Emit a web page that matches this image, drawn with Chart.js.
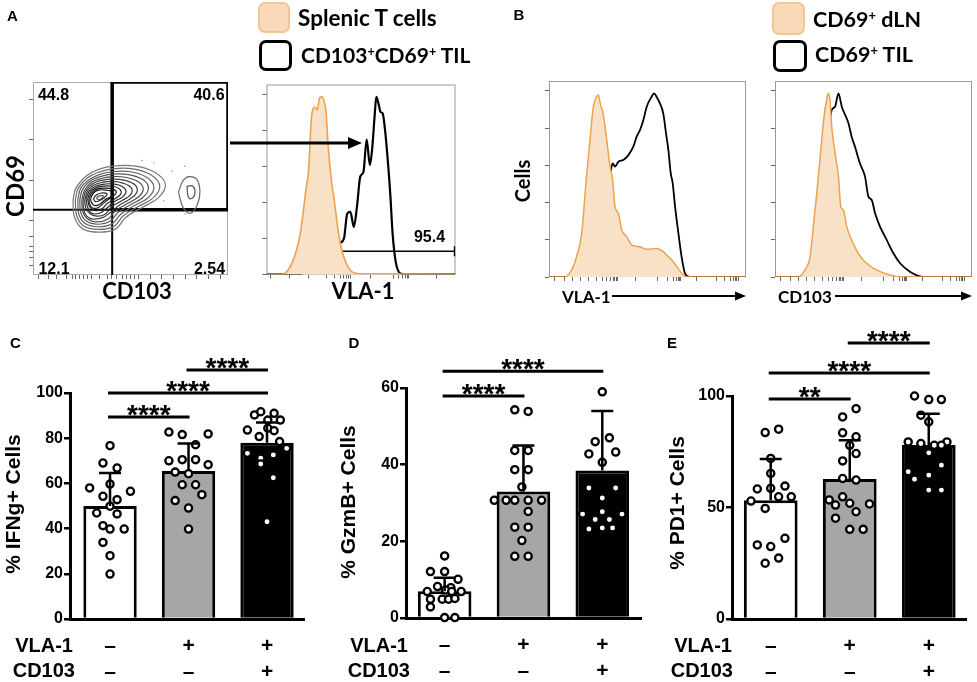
<!DOCTYPE html>
<html><head><meta charset="utf-8">
<script src="https://cdn.jsdelivr.net/npm/chart.js@4.4.1/dist/chart.umd.min.js"></script>
<style>
html,body{margin:0;padding:0;background:#fff;}
#fig{position:relative;width:977px;height:682px;overflow:hidden;font-family:'Liberation Sans',Arial,sans-serif;}
canvas{position:absolute;}
.t,.l,.r{position:absolute;white-space:nowrap;line-height:1;font-weight:bold;color:#000;}
.t{transform:translate(-50%,-50%);}
.l{transform:translate(0,-50%);}
.r{transform:translate(-100%,-50%);}
.t.rot{transform:translate(-50%,-50%) rotate(-90deg);}
.cal{font-family:Lato,'Open Sans',sans-serif;}
.box{position:absolute;box-sizing:border-box;border-radius:7px;}
.sp{font-size:0.6em;position:relative;top:-0.55em;}
</style></head>
<body><div id="fig">
<canvas id="cont" width="204" height="202" style="left:28px;top:78px"></canvas>
<canvas id="histA" width="202" height="203" style="left:260px;top:78px"></canvas>
<canvas id="histB1" width="204" height="203" style="left:544px;top:79px"></canvas>
<canvas id="histB2" width="204" height="203" style="left:770px;top:79px"></canvas>
<canvas id="barC" width="311" height="349" style="left:0px;top:330px"></canvas>
<canvas id="barD" width="312" height="348" style="left:336px;top:330px"></canvas>
<canvas id="barE" width="311" height="349" style="left:662px;top:330px"></canvas>

<svg style="position:absolute;left:0;top:0" width="977" height="682">
  <line x1="230" y1="143" x2="350" y2="143" stroke="#000" stroke-width="3"/>
  <polygon points="362,143 348,137 348,149" fill="#000"/>
  <line x1="612" y1="296" x2="736" y2="296" stroke="#000" stroke-width="2"/>
  <polygon points="746,296 735,291.5 735,300.5" fill="#000"/>
  <line x1="835" y1="296" x2="962" y2="296" stroke="#000" stroke-width="2"/>
  <polygon points="972,296 961,291.5 961,300.5" fill="#000"/>
</svg>

<div class="t" style="left:12.5px;top:15px;font-size:15px">A</div>
<div class="t" style="left:519px;top:14px;font-size:15px">B</div>
<div class="t" style="left:15.5px;top:342px;font-size:15px">C</div>
<div class="t" style="left:354px;top:342px;font-size:15px">D</div>
<div class="t" style="left:672px;top:342px;font-size:15px">E</div>

<div class="t" style="left:53.5px;top:95px;font-size:16px">44.8</div>
<div class="t" style="left:209px;top:95px;font-size:16px">40.6</div>
<div class="t" style="left:54px;top:269px;font-size:16px">12.1</div>
<div class="t" style="left:209.5px;top:269px;font-size:16px">2.54</div>
<div class="t" style="left:429.5px;top:237px;font-size:16px">95.4</div>

<div class="t cal rot" style="left:15px;top:186px;font-size:24px">CD69</div>
<div class="t cal" style="left:137px;top:291px;font-size:22px">CD103</div>
<div class="t cal" style="left:363px;top:291px;font-size:22px">VLA-1</div>
<div class="t cal rot" style="left:522px;top:181px;font-size:20px">Cells</div>
<div class="l cal" style="left:562px;top:296px;font-size:17px">VLA-1</div>
<div class="l cal" style="left:778px;top:296px;font-size:17px">CD103</div>

<div class="box" style="left:258px;top:2px;width:32px;height:31px;background:#f8d9b8;border:2px solid #f2c594"></div>
<div class="box" style="left:259px;top:40px;width:33px;height:31px;border:3px solid #000"></div>
<div class="l cal" style="left:298px;top:17.5px;font-size:22.5px">Splenic T cells</div>
<div class="l cal" style="left:301px;top:55px;font-size:21px">CD103<span class="sp">+</span>CD69<span class="sp">+</span> TIL</div>
<div class="box" style="left:772px;top:2px;width:33px;height:33px;background:#f8d9b8;border:2px solid #f2c594"></div>
<div class="box" style="left:773px;top:40px;width:34px;height:32px;border:3px solid #000"></div>
<div class="l cal" style="left:813px;top:20px;font-size:21.5px">CD69<span class="sp">+</span> dLN</div>
<div class="l cal" style="left:815px;top:55px;font-size:21.5px">CD69<span class="sp">+</span> TIL</div>

<div class="t rot" style="left:12px;top:504px;font-size:21px">% IFNg+ Cells</div>
<div class="t rot" style="left:347px;top:502px;font-size:21px">% GzmB+ Cells</div>
<div class="t rot" style="left:676px;top:503px;font-size:21px">% PD1+ Cells</div>

<div class="r" style="left:73px;top:645px;font-size:20px">VLA-1</div>
<div class="r" style="left:75px;top:670px;font-size:20px">CD103</div>
<div class="r" style="left:408px;top:645px;font-size:20px">VLA-1</div>
<div class="r" style="left:410px;top:670px;font-size:20px">CD103</div>
<div class="r" style="left:732px;top:645px;font-size:20px">VLA-1</div>
<div class="r" style="left:733px;top:670px;font-size:20px">CD103</div>
</div>

<script>
// ---------------- DATA ----------------
// Panel A contour (CD103 x, CD69 y; 0-100 display units)
const quadSplit = [40.6, 33.8];           // x split, y split
const gateA = [[40.6,33.8],[40.6,100],[100,100],[100,33.8],[40.6,33.8]];
const ring1 = [[20.5,38.5],[22,45],[27.3,51.3],[33,54.5],[40.8,56.4],[52.6,56.4],[62.8,53],[67.9,47],[64.5,40.2],[56,35],[47.6,29.9],[42.5,23.9],[34,22.2],[25.5,23.9],[21.3,29.9],[20.5,38.5]];
const ring1b = [[21.7,38.7],[23.2,45],[28,50.4],[33.5,53.2],[40.6,55],[51.3,55],[60.6,51.8],[65,46.2],[61.8,40.1],[54,35.5],[46.3,30.7],[41.5,25.2],[33.8,23.6],[26.2,25.2],[22.4,30.7],[21.7,38.7]];
const ring2 = [[23,39],[24.5,45],[29,49.5],[34,52],[40.5,53.5],[50,53.5],[58.5,50.5],[62,45.5],[59,40],[52,36],[45,31.5],[40.5,26.5],[33.5,25],[27,26.5],[23.5,31.5],[23,39]];
const ring2b = [[24,39],[25.5,44.5],[29.5,48.8],[34.5,51],[40.7,52.3],[49,52],[56.5,49.3],[59.2,44.8],[56.2,40],[49.7,36.3],[43.5,32.3],[39.5,27.8],[33.2,26.3],[27.5,27.8],[24.5,32.3],[24,39]];
const ring3 = [[25,39],[26.5,44],[30,48],[35,50],[41,51],[48,50.5],[54.5,48],[56.5,44],[53.5,40],[47.5,36.5],[42,33],[38.5,29],[33,27.5],[28,29],[25.5,33],[25,39]];
const ring3b = [[25.7,39],[27.2,43.7],[30.5,47.3],[35.2,49],[41,49.7],[47.2,49],[52.5,46.5],[53.2,42.7],[49.5,39.2],[44,36],[39.5,32.3],[35.7,29.7],[30.7,29],[27.5,30.5],[26,34],[25.7,39]];
const ring4 = [[26.5,39],[28,43.5],[31,46.5],[35.5,48],[41,48.5],[46.5,47.5],[50.5,45],[50,41.5],[45.5,38.5],[40.5,35.5],[37,31.5],[32.5,30.5],[29,32],[27,35],[26.5,39]];
const ring4b = [[27.2,39.2],[28.7,43.2],[31.5,45.7],[35.7,47],[41,47.2],[45.5,46],[47.7,43.5],[46,40.5],[41.7,38],[37.7,34.5],[34,32],[30.2,32],[28,35.2],[27.2,39.2]];
const ring5 = [[28,39.5],[29.5,43],[32,45],[36,46],[41,46],[44.5,44.5],[45,42],[42,39.5],[38,37],[35,34],[31.5,33.5],[29,35.5],[28,39.5]];
const ring5b = [[28.7,39.5],[30.2,42.7],[32.7,44.5],[36.7,45],[41,44.5],[42.7,42.7],[40,40.2],[36.5,37.5],[33.5,35],[30.5,34.7],[29,37],[28.7,39.5]];
const ring6 = [[29.5,39.5],[31,42.5],[33.5,44],[37.5,44],[41,43],[40.5,41],[37,39],[34,36.5],[31.5,36],[30,37.5],[29.5,39.5]];
const ring7 = [[31,39.5],[32.5,41.5],[35,42.5],[38,42],[36.5,40],[34,38.5],[32,38],[31,39.5]];
const ring8 = [[32.5,39.8],[34,41],[36,41],[35,39.5],[33.5,39],[32.5,39.8]];
const blob1 = [[74.6,43],[77,49],[80,51],[84,49.5],[85.6,43.5],[84.5,37],[81,32],[77,35],[74.6,43]];
const blob2 = [[79,46],[82,46],[83,42],[81,39.5],[79.5,41],[79,46]];
const outliers = [[56,59.3],[71.2,53.8],[77.9,56.4],[67,38.5],[78,31.6],[48.6,30.2],[62,58]];
const contXTicks = [3,8,12,17,20,22,24,26,28,30,34,38,40,43,46,48,50,52,54,60,66,72,78,84,90,96];
const contYTicks = [5,9,12,15,20,28,49,70,91];

// Panel A histogram (VLA-1)
const splenicX = [0,7.7,13.7,17.9,21,22.2,24,25.6,26.8,28.2,29.6,30.8,31.6,32.5,34.2,35.9,37.6,39.3,41.9,45.3,50.4,72,100];
const splenicY = [0,0,6.5,21.8,45.6,54,84.7,88.1,86.7,93.2,93.5,89.8,84.7,69.4,50.7,38.8,25.2,15,6.5,1.4,0.4,0.3,0];
const tilAX = [0,18,21.4,24,27.3,30,32.5,33.8,36.8,38.5,41,42.7,44.4,46.2,47.9,49.6,51.3,53,54.7,55.9,57.3,58.1,59.3,60.3,61.5,62.7,64.1,65.5,66.7,68.4,70.9,74.4,100];
const tilAY = [0,0,5,3,3.7,3,8.2,5.6,10,16,19,32,33,25,36,51.5,54,71,57.5,66,84.7,93.5,89.8,85.6,84.7,76.2,60.9,42.2,21.8,6.5,0.5,0,0];
const gate95 = [36.4, 99.5, 12.2];
const histXTicks = [2,12,22,32,36,39,41,42.5,43.5,44.2,55,67,70,72,73.5,74.5,75.3,90];
const histYTicks = [0,19,38,57,76,95];

// Panel B histograms
const dlnVX = [0,8.1,11.5,14,16.6,18.8,20.8,22.5,24.2,25,26.2,27.6,29.3,31,32.3,33.5,35.2,36.9,39.4,42,46.2,49.6,54.6,58,59.7,62.3,64.8,67.3,69.9,100];
const dlnVY = [0,0,3.6,10.4,22.3,48.6,70,86.9,92,92.9,87.8,82.7,70,56.3,49.5,35.9,32.5,24,20.7,16.3,15.4,14.1,14.6,12.9,11.2,8.7,5.4,2,0,0];
const tilVX = [0,11.8,15.7,19.1,22.5,25,27.6,29.3,31,32.3,33.5,35.2,37.7,40.3,42.8,44.5,46.2,47.9,49.6,52.1,53.3,54.6,56.3,58,59.4,60.6,61.8,62.8,64,65.7,67.3,69,71.2,100];
const tilVY = [0,0,2.9,7.1,18.9,29.1,41,51.2,52.9,58,56.3,58.8,59.7,62.2,66.5,71.6,75,80.1,86.9,92,93.7,92,88.6,83.5,73.3,64.8,52.9,47.8,35.9,22.3,10.4,1.9,0,0];
const dlnCX = [0,11.8,15.2,17.8,19.8,21.2,22.5,23.7,24.9,26.2,27.1,27.9,28.8,30.5,32.2,33.4,34.7,36.4,38.9,42.3,46.4,51.5,58.3,65.1,100];
const dlnCY = [0,0,3.6,10.4,29.1,42.7,56.3,69.9,81.8,90.3,93.7,90.3,76.7,63.1,51.2,35.9,34.2,25.7,18.9,12.1,7,3.6,1,0,0];
const tilCX = [0,11.8,16.1,19.5,22,23.7,25.4,27.1,28.8,30.5,32.2,33.9,35.6,37.3,38.9,40.6,43.1,45.7,47.4,49.1,50.8,53.3,56.7,60.1,63.5,68.5,75.3,100];
const tilCY = [0,0,3.6,12.1,30.8,42.7,59.7,73.3,85.2,86.9,93.7,86.9,82.7,78.4,71.6,66.5,58,51.2,41,39.3,32.5,25.7,18.9,12.1,7,2.7,0,0];
const bXTicks = [3,8,12,16,20,24,27,29,31,32.5,33.5,34.3,35,44,55,60,63,64.5,65.5,66.3,67,75,85,89,92,93.5,94.5,95.3,96];

// Panels C, D, E (bars + individual points)
const vlaRow   = ['–','+','+'];
const cd103Row = ['–','–','+'];
const barFill  = ['#ffffff','#a6a6a6','#000000'];

const ifngMean = [50, 65.5, 78];
const ifngSDTop = [64.6, 77.6, 87];
const ifng1 = [76.7,69,66.8,59.7,58,56.5,54.3,52.8,49.9,46.9,46.5,41.3,39.8,39.8,33.9,28,19.9];
const ifng1J = [0,-0.09,0.09,0,-0.26,0.26,-0.09,0.09,0,-0.17,0.09,-0.09,0.18,0,-0.09,0,0];
const ifng2 = [82.7,81.6,81.9,77.1,70,70.5,70.5,68.3,65,64.3,59.4,59.4,52.4,55,49.1,39.8];
const ifng2J = [-0.25,-0.08,0.25,0.09,-0.25,-0.08,0.09,0.25,-0.17,0,-0.08,0.09,-0.17,0.17,0,0];
const ifng3 = [90.3,91.7,91,88,83.6,84.4,83.3,80.7,88,78.5,73.3,75.5,71.1,68.6,72.6,62.5,43];
const ifng3J = [-0.16,-0.08,0.09,0.17,-0.25,0.01,0.09,-0.1,0.01,0.16,-0.25,0.25,-0.08,-0.08,0.08,0.08,0];
const ifngTicks = [0,20,40,60,80,100];
const ifngSig = [[0,1,'****',89.4],[0,2,'****',100],[1,2,'****',110.2]];

const gzmbMean = [7, 33, 38.5];
const gzmbSDTop = [10.5, 45, 54];
const gzmb1 = [16.2,12.1,12.1,10.1,8.2,7.9,6.9,7.3,6.9,6.9,4.9,4.9,4.9,5.1,2.9,0.1,0.1];
const gzmb1J = [0,-0.18,0,0.17,-0.09,0.08,-0.22,0.01,0.09,0.21,-0.18,-0.03,0.05,0.13,-0.18,0,0.13];
const gzmb2 = [54.3,53.9,43.7,43.7,38.7,38.7,34.2,30.7,30.7,30.7,30.7,30.7,27.8,23.7,23.7,20.2,16.1,16.1];
const gzmb2J = [-0.11,0.06,-0.11,0.06,-0.11,0.06,-0.02,-0.37,-0.22,-0.11,0.06,0.23,0.06,-0.11,0.06,-0.02,-0.11,0.06];
const gzmb3 = [59,46,47,42.8,43.3,40.6,33.9,33.9,31.3,27.7,27.1,27.1,25.7,25.7,23.5,23.2,23.5];
const gzmb3J = [0,-0.09,0.09,-0.17,0.17,0,-0.17,0.17,0,0,-0.25,0.25,-0.09,0.09,0,-0.17,0.13];
const gzmbTicks = [0,20,40,60];
const gzmbSig = [[0,1,'****',57.9],[0,2,'****',64.4]];

const pd1Mean = [53.3, 62.8, 78];
const pd1SDTop = [71.7, 80.2, 92];
const pd11 = [83.6,85.1,72,65.3,58.3,58.6,59.6,52.9,54.8,54.8,49.6,36.2,33.2,32.5,25,27.3];
const pd11J = [-0.07,0.1,0,0,-0.17,0,0.18,-0.25,0.1,0.26,-0.07,0.18,-0.17,0,-0.07,0.1];
const pd12 = [90.6,94.3,83.5,81.7,77.9,70.9,74.2,63,62.3,53.4,54.8,51.1,51.9,51.6,48.1,45.2,40.2,40.2];
const pd12J = [-0.09,0.08,-0.09,0.08,0,-0.09,0.08,-0.09,0.08,-0.26,-0.09,-0.18,0,0.25,0.08,-0.18,0,0.17];
const pd13 = [100,98.4,98.4,91.4,88.4,79.4,78.7,77.9,79.4,74.5,77.9,69,66,64.5,62.7,57.8,57.8];
const pd13J = [-0.18,0,0.16,-0.1,0,-0.26,-0.1,0.07,0.23,0,0.16,0.16,-0.26,0,-0.18,0,0.16];
const pd1Ticks = [0,50,100];
const pd1Sig = [[0,1,'**',98.7],[0,2,'****',110.3],[1,2,'****',123.8]];

// ---------------- RENDERING ----------------
Chart.defaults.font.family = "'Liberation Sans', Arial, sans-serif";
Chart.defaults.color = '#000';
const ORANGE_LINE = '#eca24f', ORANGE_FILL = '#f9e1c7';

const common = { responsive:false, animation:false, devicePixelRatio:1, events:[] };
const noLegend = { legend:{display:false}, tooltip:{enabled:false} };

const framePlugin = { id:'frame', beforeDatasetsDraw(chart, args, o){
  const {ctx, chartArea:a} = chart; ctx.save(); ctx.strokeStyle = o.color || '#999'; ctx.lineWidth = 1;
  ctx.strokeRect(a.left+0.5, a.top+0.5, a.right-a.left-1, a.bottom-a.top-1); ctx.restore(); } };

function flowAxes(xT, yT){
  const g = {drawOnChartArea:false, drawTicks:true, tickLength:4, color:'#666', lineWidth:1};
  return {
    x:{type:'linear', min:0, max:100, afterBuildTicks:s=>{s.ticks = xT.map(v=>({value:v}));}, afterFit:s=>{s.height=5;}, ticks:{display:false}, grid:g, border:{display:false}},
    y:{type:'linear', min:0, max:100, afterBuildTicks:s=>{s.ticks = yT.map(v=>({value:v}));}, afterFit:s=>{s.width=5;}, ticks:{display:false}, grid:g, border:{display:false}}
  };
}
const pairs = (xs, ys) => xs.map((x,i)=>({x, y:ys[i]}));
const pts = arr => arr.map(p=>({x:p[0], y:p[1]}));
function curve(xs, ys, color, width, fill){
  return {data:pairs(xs,ys), borderColor:color, borderWidth:width, backgroundColor: fill || 'rgba(0,0,0,0)', fill: fill ? 'origin' : false,
          pointRadius:0, tension:0.3, cubicInterpolationMode:'monotone'};
}

// Contour plot
const rings = [ring1,ring1b,ring2,ring2b,ring3,ring3b,ring4,ring4b,ring5,ring5b,ring6,ring7,ring8,blob1,blob2];
const ringCol = ['#7a7a7a','#6e6e6e','#636363','#585858','#4d4d4d','#424242','#373737','#2c2c2c','#222','#1a1a1a','#111','#222','#555','#6a6a6a','#555'];
new Chart(document.getElementById('cont'), {
  type:'scatter',
  data:{datasets:[
    ...rings.map((r,i)=>({data:pts(r), showLine:true, borderColor:ringCol[i], borderWidth:1.2, pointRadius:0, tension:0.4})),
    {data:pts(outliers), showLine:false, pointRadius:0.8, pointBackgroundColor:'#999', pointBorderWidth:0},
    {data:[{x:0,y:quadSplit[1]},{x:100,y:quadSplit[1]}], showLine:true, borderColor:'#000', borderWidth:2, pointRadius:0},
    {data:[{x:quadSplit[0],y:0},{x:quadSplit[0],y:100}], showLine:true, borderColor:'#000', borderWidth:2, pointRadius:0},
    {data:pts(gateA), showLine:true, borderColor:'#000', borderWidth:3.5, pointRadius:0, borderJoinStyle:'miter'}
  ]},
  options:{...common, layout:{padding:{top:2,right:2}}, scales:flowAxes(contXTicks, contYTicks), plugins:{...noLegend, frame:{color:'#aaa'}}},
  plugins:[framePlugin]
});

// Histogram A
new Chart(document.getElementById('histA'), {
  type:'line',
  data:{datasets:[
    curve(splenicX, splenicY, ORANGE_LINE, 1.6, ORANGE_FILL),
    curve(tilAX, tilAY, '#000', 2.2),
    {data:[{x:gate95[0],y:gate95[2]},{x:gate95[1],y:gate95[2]}], borderColor:'#000', borderWidth:1.5, pointStyle:'line', pointRotation:90, pointRadius:5, pointBorderWidth:1.5, pointBorderColor:'#000', fill:false}
  ]},
  options:{...common, layout:{padding:{top:2,right:2}}, scales:flowAxes(histXTicks, histYTicks), plugins:{...noLegend, frame:{color:'#999'}}},
  plugins:[framePlugin]
});

// Histograms B
[['histB1', dlnVX, dlnVY, tilVX, tilVY], ['histB2', dlnCX, dlnCY, tilCX, tilCY]].forEach(([id, ox, oy, bx, by])=>{
  new Chart(document.getElementById(id), {
    type:'line',
    data:{datasets:[ curve(ox, oy, ORANGE_LINE, 1.5, ORANGE_FILL), curve(bx, by, '#000', 1.8) ]},
    options:{...common, layout:{padding:{top:2,right:2}}, scales:flowAxes(bXTicks, histYTicks), plugins:{...noLegend, frame:{color:'#999'}}},
    plugins:[framePlugin]
  });
});

// Bar charts with error bars and significance brackets
const annotPlugin = { id:'annot', afterDatasetsDraw(chart, args, o){
  const {ctx, scales:{x, y}} = chart; ctx.save();
  ctx.strokeStyle = '#000'; ctx.lineWidth = 2.5;
  o.means.forEach((m,i)=>{
    const px = x.getPixelForValue(i), y0 = y.getPixelForValue(m), y1 = y.getPixelForValue(o.tops[i]);
    ctx.beginPath(); ctx.moveTo(px, y0); ctx.lineTo(px, y1); ctx.moveTo(px-11, y1); ctx.lineTo(px+11, y1); ctx.stroke();
  });
  ctx.lineWidth = 3; ctx.fillStyle = '#000'; ctx.font = "bold 28px 'Liberation Sans'"; ctx.textAlign = 'center'; ctx.textBaseline = 'alphabetic';
  o.sig.forEach(([a, b, lab, v])=>{
    const xa = x.getPixelForValue(a) - 2, xb = x.getPixelForValue(b) + 1, py = y.getPixelForValue(v);
    ctx.beginPath(); ctx.moveTo(xa, py); ctx.lineTo(xb, py); ctx.stroke();
    ctx.fillText(lab, (xa+xb)/2, py + 7);
  });
  ctx.restore(); } };

function barChart(id, c){
  const groups = c.groups.map((g, gi)=>({type:'scatter', data:g[0].map((v,i)=>({x:gi + g[1][i], y:v})),
      pointRadius:3.6, pointBorderWidth:2.3, pointBackgroundColor:'#fff', pointBorderColor:'#000', clip:false, order:1}));
  new Chart(document.getElementById(id), {
    type:'bar',
    data:{datasets:[
      {type:'bar', data:c.means.map((m,i)=>({x:i, y:m})), backgroundColor:barFill, borderColor:'#000', borderWidth:3,
       barPercentage:0.68, categoryPercentage:1, order:2},
      ...groups
    ]},
    options:{...common, layout:{padding:{top:c.padTop, left:0, right:0, bottom:0}},
      scales:{
        x:{type:'linear', min:c.xMin, max:c.xMax, offset:false,
           afterBuildTicks:s=>{s.ticks = [0,1,2].map(v=>({value:v}));}, afterFit:s=>{s.height=60;},
           ticks:{callback:(v,i)=>[vlaRow[i], cd103Row[i]], font:{size:21, weight:'bold', lineHeight:1.24}, padding:14, color:'#000', autoSkip:false, maxRotation:0},
           grid:{display:false, drawTicks:false, offset:false}, border:{display:true, color:'#000', width:3}},
        y:{type:'linear', min:0, max:c.yMax,
           afterBuildTicks:s=>{s.ticks = c.yTicks.map(v=>({value:v}));}, afterFit:s=>{s.width=70;},
           ticks:{font:{size:16, weight:'bold'}, color:'#000', padding:1},
           grid:{drawOnChartArea:false, drawTicks:true, tickLength:6, color:'#000', lineWidth:2.5},
           border:{display:true, color:'#000', width:3}}
      },
      plugins:{...noLegend, annot:{means:c.means, tops:c.tops, sig:c.sig}}},
    plugins:[annotPlugin]
  });
}

barChart('barC', {means:ifngMean, tops:ifngSDTop, groups:[[ifng1,ifng1J],[ifng2,ifng2J],[ifng3,ifng3J]],
  xMin:-0.51, xMax:2.48, yMax:100, yTicks:ifngTicks, sig:ifngSig, padTop:63});
barChart('barD', {means:gzmbMean, tops:gzmbSDTop, groups:[[gzmb1,gzmb1J],[gzmb2,gzmb2J],[gzmb3,gzmb3J]],
  xMin:-0.49, xMax:2.5, yMax:60, yTicks:gzmbTicks, sig:gzmbSig, padTop:58});
barChart('barE', {means:pd1Mean, tops:pd1SDTop, groups:[[pd11,pd11J],[pd12,pd12J],[pd13,pd13J]],
  xMin:-0.49, xMax:2.48, yMax:100, yTicks:pd1Ticks, sig:pd1Sig, padTop:66});
</script>
</body></html>
